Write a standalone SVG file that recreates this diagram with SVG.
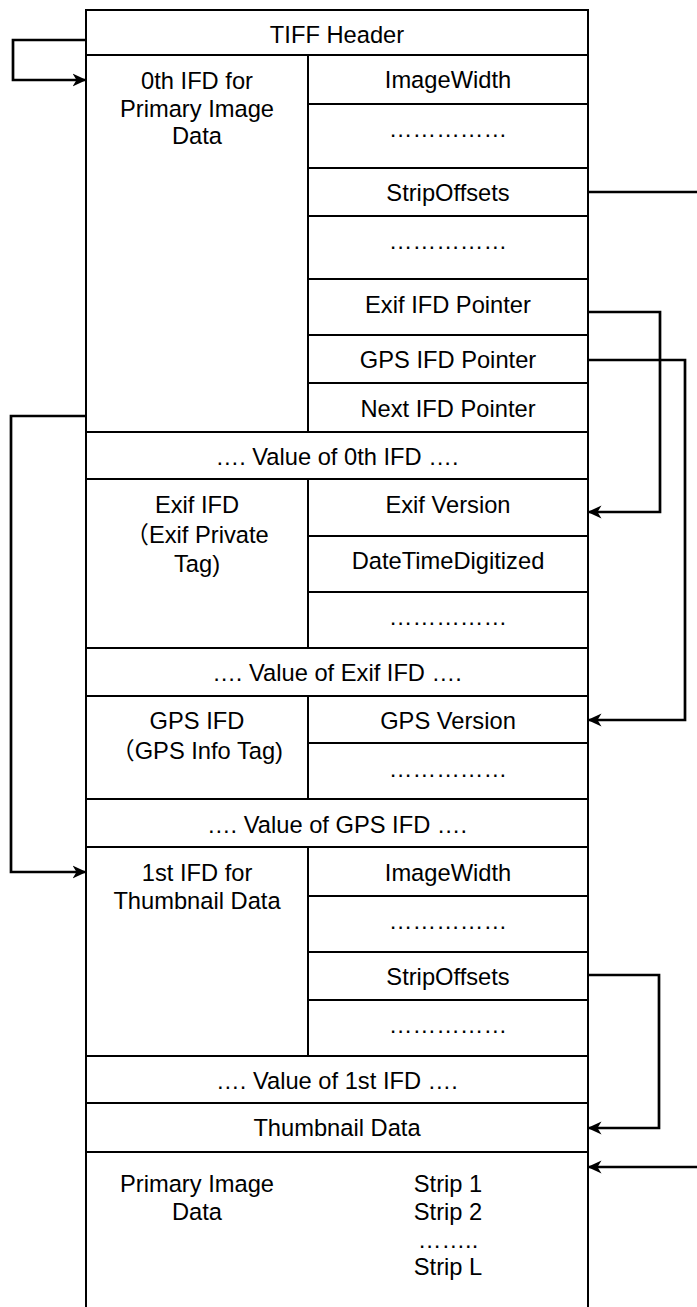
<svg xmlns="http://www.w3.org/2000/svg" width="697" height="1307" viewBox="0 0 697 1307">
<style>
.box{fill:#fff;stroke:#000;stroke-width:2}
.ln{stroke:#000;stroke-width:2;fill:none}
.t{font-family:"Liberation Sans",Arial,"Noto Sans CJK SC",sans-serif;font-size:23.7px;text-anchor:middle;fill:#000}
.c{fill:none;stroke:#000;stroke-width:2.7;stroke-linejoin:miter}
.a{marker-end:url(#arr)}
</style>
<defs>
<marker id="arr" markerUnits="userSpaceOnUse" markerWidth="14" markerHeight="14" viewBox="0 0 14 14" refX="13.5" refY="7" orient="auto">
<path d="M0,0.5 L14,7 L0,13.5 L4,7 z" fill="#000"/>
</marker>
</defs>
<rect width="697" height="1307" fill="#fff"/>

<g id="header">
<rect class="box" x="86" y="10" width="502" height="45"/>
<text class="t" x="337" y="43">TIFF Header</text>
</g>

<g id="ifd0">
<rect class="box" x="86" y="55" width="502" height="377"/>
<path class="ln" d="M308,55V432M308,104H588M308,168H588M308,216H588M308,279H588M308,335H588M308,383H588"/>
<text class="t" x="197" y="89">0th IFD for</text>
<text class="t" x="197" y="116.5">Primary Image</text>
<text class="t" x="197" y="144">Data</text>
<text class="t" x="448" y="88">ImageWidth</text>
<text class="t" x="448" y="137">……………</text>
<text class="t" x="448" y="201">StripOffsets</text>
<text class="t" x="448" y="249">……………</text>
<text class="t" x="448" y="313">Exif IFD Pointer</text>
<text class="t" x="448" y="368">GPS IFD Pointer</text>
<text class="t" x="448" y="417">Next IFD Pointer</text>
</g>

<g id="value0">
<rect class="box" x="86" y="432" width="502" height="47"/>
<text class="t" x="337" y="465">…. Value of 0th IFD ….</text>
</g>

<g id="exif">
<rect class="box" x="86" y="479" width="502" height="169"/>
<path class="ln" d="M308,479V648M308,536H588M308,592H588"/>
<text class="t" x="197" y="513">Exif IFD</text>
<text class="t" x="197" y="542.5">（Exif Private</text>
<text class="t" x="197" y="572">Tag)</text>
<text class="t" x="448" y="513">Exif Version</text>
<text class="t" x="448" y="569">DateTimeDigitized</text>
<text class="t" x="448" y="625">……………</text>
</g>

<g id="valueExif">
<rect class="box" x="86" y="648" width="502" height="48"/>
<text class="t" x="337" y="681">…. Value of Exif IFD ….</text>
</g>

<g id="gps">
<rect class="box" x="86" y="696" width="502" height="103"/>
<path class="ln" d="M308,696V799M308,743H588"/>
<text class="t" x="197" y="729">GPS IFD</text>
<text class="t" x="197" y="759">（GPS Info Tag)</text>
<text class="t" x="448" y="729">GPS Version</text>
<text class="t" x="448" y="777">……………</text>
</g>

<g id="valueGps">
<rect class="box" x="86" y="799" width="502" height="48"/>
<text class="t" x="337" y="833">…. Value of GPS IFD ….</text>
</g>

<g id="ifd1">
<rect class="box" x="86" y="847" width="502" height="209"/>
<path class="ln" d="M308,847V1056M308,896H588M308,952H588M308,1000H588"/>
<text class="t" x="197" y="881">1st IFD for</text>
<text class="t" x="197" y="909">Thumbnail Data</text>
<text class="t" x="448" y="881">ImageWidth</text>
<text class="t" x="448" y="929">……………</text>
<text class="t" x="448" y="985">StripOffsets</text>
<text class="t" x="448" y="1033">……………</text>
</g>

<g id="value1">
<rect class="box" x="86" y="1056" width="502" height="47"/>
<text class="t" x="337" y="1089">…. Value of 1st IFD ….</text>
</g>

<g id="thumb">
<rect class="box" x="86" y="1103" width="502" height="49"/>
<text class="t" x="337" y="1136">Thumbnail Data</text>
</g>

<g id="primary">
<rect class="box" x="86" y="1152" width="502" height="170"/>
<text class="t" x="197" y="1192">Primary Image</text>
<text class="t" x="197" y="1220">Data</text>
<text class="t" x="448" y="1192">Strip 1</text>
<text class="t" x="448" y="1220">Strip 2</text>
<text class="t" x="448" y="1247.5">……..</text>
<text class="t" x="448" y="1275">Strip L</text>
</g>

<g id="connectors">
<path class="c a" d="M86,40H13V80H86"/>
<path class="c" d="M588,192H700"/>
<path class="c a" d="M588,312H660V512H588"/>
<path class="c a" d="M588,360H685V720H588"/>
<path class="c a" d="M86,416H11V872H86"/>
<path class="c a" d="M588,975H659V1128H588"/>
<path class="c a" d="M700,1167H588"/>
</g>
</svg>
